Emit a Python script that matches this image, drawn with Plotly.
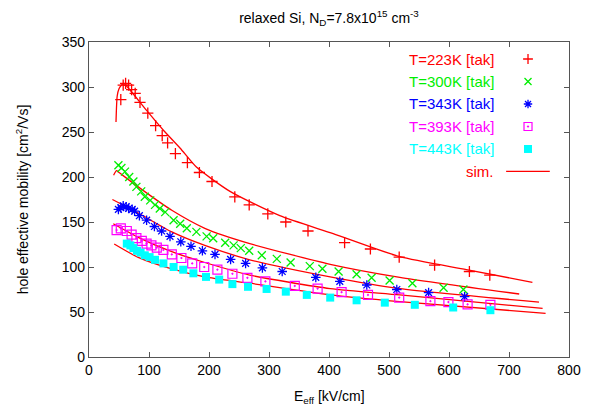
import plotly.graph_objects as go

# Measured hole mobility (tak) at five temperatures
e_223 = [53, 57, 61, 66, 71, 77, 85, 98, 111, 122, 131, 144, 164, 184, 205, 243, 267, 298, 328, 365, 426, 469, 517, 576, 634, 668]
mu_223 = [286, 302, 304, 302, 297, 293, 283, 271, 257, 246, 238, 226, 216, 205, 195, 178, 169, 159, 150, 140, 127, 120, 111, 102, 95, 91]

e_300 = [49, 54, 60, 67, 74, 79, 87, 93, 102, 110, 118, 127, 141, 152, 163, 179, 196, 207, 227, 241, 253, 267, 288, 313, 336, 368, 389, 416, 446, 471, 501, 539, 591, 624]
mu_300 = [213, 210, 206, 200, 195, 189, 184, 178, 174, 169, 165, 161, 152, 148, 143, 139, 134, 132, 127, 124, 121, 118, 113, 109, 105, 101, 98, 95, 92, 88, 85, 82, 77, 75]

e_343 = [49, 53, 57, 62, 66, 72, 76, 84, 96, 109, 121, 135, 153, 170, 189, 210, 236, 261, 289, 322, 378, 418, 463, 513, 566, 626]
mu_343 = [164, 166, 168, 167, 165, 164, 162, 157, 152, 145, 140, 134, 128, 123, 118, 114, 108.5, 104, 99, 95, 88.5, 84, 80, 75, 71.5, 67]

e_393 = [46, 53, 63, 71, 79, 88, 96, 104, 113, 124, 138, 154, 172, 192, 214, 239, 264, 294, 343, 381, 421, 465, 517, 569, 599, 631, 669]
mu_393 = [141, 143, 140, 136, 132, 129, 126, 124, 121.5, 119, 114, 110, 104, 100, 97, 92.5, 88, 84, 79, 76, 72, 69, 66, 62, 61, 58.5, 58]

e_443 = [63, 69, 74, 80, 86, 93, 101, 110, 124, 141, 157, 174, 195, 217, 239, 265, 296, 328, 363, 402, 446, 493, 543, 607, 669]
mu_443 = [126, 124, 121, 118, 116, 113, 111, 108, 104, 100, 97, 93, 89, 86, 81, 78, 75.6, 72.6, 69, 66, 63, 60.4, 58, 55, 52]

# Simulated mobility curves
sim_e_223 = [45, 47, 50, 54, 58, 68, 96, 124, 152, 179, 235, 318, 407, 518, 629, 739]
sim_mu_223 = [261, 290, 298, 302, 304, 297, 274, 252, 232, 211, 184, 157, 137, 111.4, 97, 83]

sim_e_300 = [41, 46, 50, 82, 138, 193, 268, 402, 518, 717]
sim_mu_300 = [202, 207, 205, 189, 163, 143, 126, 103, 88.5, 70]

sim_e_343 = [39, 82, 138, 193, 268, 402, 518, 750]
sim_mu_343 = [175, 160, 139, 124, 108, 89, 76, 61]

sim_e_393 = [40.5, 82, 138, 193, 268, 402, 518, 756]
sim_mu_393 = [148, 133, 117, 105, 91, 76, 69, 54]

sim_e_443 = [42, 82, 138, 193, 268, 402, 518, 761]
sim_mu_443 = [125.6, 110.7, 97.8, 89, 82, 69, 61.5, 48.5]

legend_labels = ["T=223K [tak]", "T=300K [tak]", "T=343K [tak]", "T=393K [tak]", "T=443K [tak]", "sim."]

RED, GREEN, BLUE, MAGENTA, CYAN = "#ff0000", "#00ee00", "#0000ff", "#ff00ff", "#00ffff"
FONT = "Liberation Sans, Arial, Helvetica, sans-serif"

# (x, y, colour, symbol, data size, key size, outline width)
series = [
    (e_223, mu_223, RED, "cross-thin", 8, 7, 1.3),
    (e_300, mu_300, GREEN, "x-thin", 8, 7, 1.3),
    (e_343, mu_343, BLUE, "asterisk", 8, 7, 1.3),
    (e_393, mu_393, MAGENTA, "square-open-dot", 9, 8, 1.2),
    (e_443, mu_443, CYAN, "square", 8, 8, 0),
]
sims = [
    (sim_e_223, sim_mu_223), (sim_e_300, sim_mu_300), (sim_e_343, sim_mu_343),
    (sim_e_393, sim_mu_393), (sim_e_443, sim_mu_443),
]

fig = go.Figure()

for xs, ys in sims:
    fig.add_trace(go.Scatter(x=xs, y=ys, mode="lines", line=dict(color=RED, width=1.3, shape="spline", smoothing=0.6),
                             showlegend=False, hoverinfo="skip"))


def marker(col, sym, size, lw):
    mk = dict(symbol=sym, size=size, color=col)
    if lw:
        mk["line"] = dict(color=col, width=lw)
    return mk


for xs, ys, col, sym, size, ksize, lw in series:
    fig.add_trace(go.Scatter(x=xs, y=ys, mode="markers", marker=marker(col, sym, size, lw), showlegend=False))

# Key drawn in gnuplot style: right-aligned label followed by its sample
key_x_text = 0.848
key_x_sample = 0.9146
key_y0 = 0.946
key_dy = 0.0714
for i, (xs, ys, col, sym, size, ksize, lw) in enumerate(series):
    yk = key_y0 - i * key_dy
    fig.add_trace(go.Scatter(x=[key_x_sample], y=[yk], xaxis="x2", yaxis="y2", mode="markers",
                             marker=marker(col, sym, ksize, lw), showlegend=False, hoverinfo="skip"))
    fig.add_annotation(x=key_x_text, y=yk, xref="paper", yref="paper", text=legend_labels[i],
                       showarrow=False, xanchor="right", yanchor="middle",
                       font=dict(family=FONT, size=15, color=col))
yk = key_y0 - 5 * key_dy
fig.add_annotation(x=key_x_text, y=yk, xref="paper", yref="paper", text=legend_labels[5],
                   showarrow=False, xanchor="right", yanchor="middle",
                   font=dict(family=FONT, size=15, color=RED))
fig.add_shape(type="line", xref="paper", yref="paper", x0=0.869, x1=0.960, y0=yk, y1=yk,
              line=dict(color=RED, width=1.3))

# Axis titles
fig.add_annotation(x=-0.14, y=0.5, xref="paper", yref="paper", textangle=-90,
                   text="hole effective mobility [cm<sup>2</sup>/Vs]", showarrow=False,
                   xanchor="center", yanchor="middle", font=dict(family=FONT, size=14, color="black"))
fig.add_annotation(x=0.5, y=-0.128, xref="paper", yref="paper",
                   text="E<sub>eff</sub> [kV/cm]", showarrow=False,
                   xanchor="center", yanchor="middle", font=dict(family=FONT, size=14, color="black"))

axis_common = dict(showgrid=False, zeroline=False, showline=True, linecolor="#555555", linewidth=1.2,
                   ticks="inside", ticklen=5, tickcolor="#555555", tickwidth=1, mirror="ticks",
                   tickfont=dict(family=FONT, size=14, color="black"))

fig.update_layout(
    width=598, height=414,
    margin=dict(l=89, r=29, t=42, b=57),
    paper_bgcolor="white", plot_bgcolor="white",
    title=dict(text="relaxed Si, N<sub>D</sub>=7.8x10<sup>15</sup> cm<sup>-3</sup>",
               x=0.5, xref="paper", y=0.957, yanchor="middle",
               font=dict(family=FONT, size=14, color="black")),
    xaxis=dict(range=[0, 800], dtick=100, **axis_common),
    yaxis=dict(range=[0, 350], dtick=50, **axis_common),
    xaxis2=dict(range=[0, 1], overlaying="x", visible=False),
    yaxis2=dict(range=[0, 1], overlaying="y", visible=False),
    showlegend=False,
)

fig.write_html("out.html")
